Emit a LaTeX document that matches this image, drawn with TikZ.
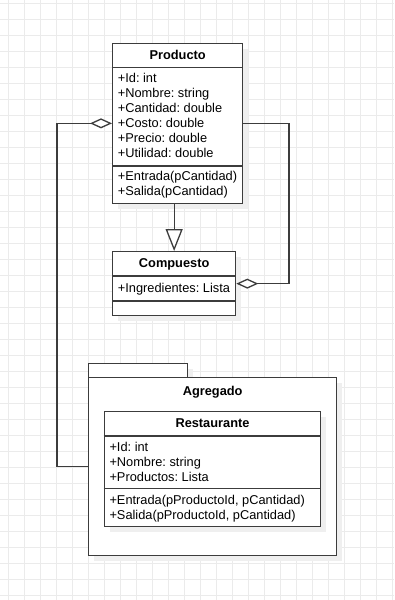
\documentclass[tikz,border=0pt]{standalone}
\usepackage{fontspec}
\setmainfont{Liberation Sans}
\frenchspacing
\usetikzlibrary{arrows.meta}
\definecolor{gridline}{HTML}{EBEBEB}
\definecolor{shadowgray}{HTML}{EFEFEF}
\definecolor{ink}{HTML}{3C3C3C}
% shadowed box: name, x, y (top left), width, height
\newcommand\umlbox[5]{%
  \fill[shadowgray] (#2+6,#3+6) rectangle ++(#4,#5);
  \node[boxstyle, minimum width=#4pt, minimum height=#5pt] (#1) at (#2,#3) {};}
% horizontal compartment separator across a box at a given y
\newcommand\umlsep[2]{\draw[rule] (#1.west |- 0,#2) -- (#1.east |- 0,#2);}
\begin{document}
\begin{tikzpicture}[x=1pt,y=-1pt,
  gridrule/.style={draw=gridline, line width=0.8pt},
  boxstyle/.style={draw=ink, line width=1.3pt, fill=white, inner sep=0pt, anchor=north west},
  rule/.style={draw=ink, line width=1.3pt},
  conn/.style={draw=ink, line width=1.3pt},
  member/.style={font=\fontsize{12.8}{15}\selectfont, inner sep=0pt, anchor=base west, text=black},
  title/.style={font=\bfseries\fontsize{12.8}{15}\selectfont, inner sep=0pt, anchor=base, text=black},
  agg/.style={conn, -{Diamond[fill=white, length=22pt, width=10pt]}},
  gen/.style={conn, -{Triangle[fill=white, length=22pt, width=17pt]}}]
\useasboundingbox (0,0) rectangle (394,600);
\fill[white] (0,0) rectangle (394,600);
\foreach \x in {8,24,...,392} \draw[gridrule] (\x,0) -- (\x,600);
\foreach \y in {3,19,...,599} \draw[gridrule] (0,\y) -- (394,\y);

% Producto
\umlbox{prod}{112}{42.7}{130}{160}
\umlsep{prod}{67.7}
\umlsep{prod}{166}
\node[title] (prodT) at (prod.north |- 0,59.6) {Producto};
\node[member] (p1) at (117.7,82.9) {+Id: int};
\node[member] (p2) at (117.7,97.9) {+Nombre: string};
\node[member] (p3) at (117.7,112.9) {+Cantidad: double};
\node[member] (p4) at (117.7,127.9) {+Costo: double};
\node[member] (p5) at (117.7,142.9) {+Precio: double};
\node[member] (p6) at (117.7,157.9) {+Utilidad: double};
\node[member] (p7) at (117.7,180.8) {+Entrada(pCantidad)};
\node[member] (p8) at (117.7,195.8) {+Salida(pCantidad)};

% Compuesto
\umlbox{comp}{112}{251}{123}{64}
\umlsep{comp}{276}
\umlsep{comp}{301}
\node[title] (compT) at (comp.north |- 0,267.3) {Compuesto};
\node[member] (c1) at (117.7,292.9) {+Ingredientes: Lista};

% Agregado package
\fill[shadowgray] (94,368.7) rectangle ++(99,14);
\fill[shadowgray] (94,382.7) rectangle ++(248,178);
\node[boxstyle, minimum width=99pt, minimum height=14pt] (tab) at (88,362.7) {};
\node[boxstyle, minimum width=248pt, minimum height=178pt] (pkg) at (88,376.7) {};
\node[title] (pkgT) at (pkg.north |- 0,395.3) {Agregado};

% Restaurante
\umlbox{rest}{103.7}{411}{216.3}{114.7}
\umlsep{rest}{436}
\umlsep{rest}{488.3}
\node[title] (restT) at (rest.north |- 0,427.9) {Restaurante};
\node[member] (r1) at (109.3,451.3) {+Id: int};
\node[member] (r2) at (109.3,466.3) {+Nombre: string};
\node[member] (r3) at (109.3,481.3) {+Productos: Lista};
\node[member] (r4) at (109.3,504.6) {+Entrada(pProductoId, pCantidad)};
\node[member] (r5) at (109.3,519.6) {+Salida(pProductoId, pCantidad)};

% relations
\draw[agg] (pkg.west) -- ++(-31,0) coordinate (leftbend) |- (prod.west);
\draw[agg] (prod.east) -- ++(45.7,0) coordinate (rightbend) |- (comp.east);
\draw[gen] (comp.north |- prod.south) -- (comp.north);
\end{tikzpicture}
\end{document}
